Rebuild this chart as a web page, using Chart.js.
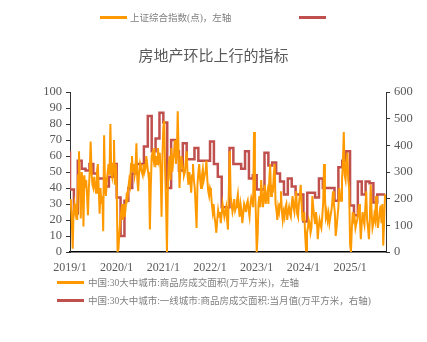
<!DOCTYPE html>
<html>
<head>
<meta charset="utf-8">
<script src="https://cdn.jsdelivr.net/npm/chart.js@4.4.1/dist/chart.umd.min.js"></script>
<style>
  html, body { margin: 0; padding: 0; background: #fff; }
  #wrap { position: relative; width: 427px; height: 342px; }
  canvas { position: absolute; left: 0; top: 0; }
  .lg { position: absolute; font-size: 9.5px; font-family: "Liberation Serif", "Noto Sans CJK SC", serif; color: #7f7f7f; white-space: nowrap; line-height: 12px; }
  .sw { position: absolute; height: 3px; width: 27px; }
</style>
</head>
<body>
<div id="wrap">
  <canvas id="grafica" width="427" height="342"></canvas>
  <span class="sw" style="left:100px;top:16px;background:#FF9900"></span>
  <span class="lg" style="left:130px;top:12px">上证综合指数(点)，左轴</span>
  <span class="sw" style="left:299px;top:16px;background:#C0504D"></span>
  <span class="sw" style="left:57px;top:281px;background:#FF9900"></span>
  <span class="lg" style="left:88px;top:277px">中国:30大中城市:商品房成交面积(万平方米)，左轴</span>
  <span class="sw" style="left:57px;top:299px;background:#C0504D"></span>
  <span class="lg" style="left:88px;top:295px">中国:30大中城市:一线城市:商品房成交面积:当月值(万平方米，右轴)</span>
</div>
<script>
// ── Datos ─────────────────────────────────────────────
const titulo = "房地产环比上行的指标";
const etiquetaNaranja = "中国:30大中城市:商品房成交面积(万平方米)，左轴";
const etiquetaRoja = "中国:30大中城市:一线城市:商品房成交面积:当月值(万平方米，右轴)";
const anios = [2019, 2020, 2021, 2022, 2023, 2024, 2025];

// semanal, eje izquierdo (una lista por año)
const semanas2019 = [33,30,20,2,25,30,25,30,20,48,63,40,21,50,45,16,48,40,45,35,23,40,50,69,50,42,40,47,42,37,50,55,40,24,40,30,35,13,73,40,35,45,50,55,48,80,50,47,55,70,42,55];
const semanas2020 = [40,0,2,12,20,25,30,20,30,22,28,35,33,40,45,42,55,60,50,55,48,52,68,45,38,50,55,52,50,48,55,50,52,60,55,50,45,14,40,60,62,58,65,53,60,55,65,58,62,50,22,60];
const semanas2021 = [78,82,50,30,0,40,55,60,45,65,50,58,62,70,55,60,88,62,40,52,60,55,52,48,50,57,63,48,42,50,45,37,48,55,45,40,28,15,42,50,55,45,40,48,52,45,48,50,57,45,38,35];
const semanas2022 = [40,38,30,25,30,22,18,12,20,26,22,25,18,24,30,26,22,25,28,20,14,40,63,35,30,25,28,33,26,28,32,36,28,22,30,26,18,24,30,28,25,30,32,26,22,30,34,32,28,75,40,25];
const semanas2023 = [0,10,30,35,28,45,35,28,35,42,30,35,38,30,45,55,35,42,37,48,55,30,26,20,28,25,30,38,26,20,25,22,28,30,20,25,28,24,22,30,35,28,25,32,38,24,22,30,35,42,30,20];
const semanas2024 = [20,25,10,1,12,15,20,18,12,15,35,28,22,18,25,20,8,15,20,17,15,22,30,55,35,22,25,20,24,18,22,25,30,38,30,25,10,15,22,28,40,35,32,45,55,75,48,45,55,62,45,40];
const semanas2025 = [5,0,15,25,20,22,15,18,20,25,30,20,8,18,25,20,17,28,38,20,15,8,20,42,25,15,18,23,20,35,22,15,20,25,29,18,30,4,20,36];

// mensual desde 2019/1, eje derecho (万平方米)
const mensual = [378,234,144,342,312,306,330,294,276,276,246,282,
                 330,204,60,192,240,294,330,330,396,510,378,426,
                 522,486,240,420,378,306,408,348,348,390,342,342,
                 342,414,330,282,168,168,390,330,330,312,378,276,
                 288,234,234,372,324,336,294,264,216,276,246,216,
                 216,114,222,222,204,276,240,240,240,192,318,342,
                 378,174,138,264,216,264,258,186,216,216];

const ticksIzq = { min: 0, max: 100, paso: 10 };
const ticksDer = { min: 0, max: 600, paso: 100 };

// ── Construcción de series ───────────────────────────
const listasSemanales = [semanas2019, semanas2020, semanas2021, semanas2022, semanas2023, semanas2024, semanas2025];
const puntosNaranja = [];
listasSemanales.forEach((lista, i) => {
  lista.forEach((v, k) => puntosNaranja.push({ x: anios[i] + k / 52, y: v }));
});
const puntosRojos = mensual.map((v, m) => ({ x: 2019 + m / 12, y: v }));

const FUENTE = '"Liberation Serif", "Noto Sans CJK SC", serif';
Chart.defaults.font.family = FUENTE;
Chart.defaults.color = "#595959";

new Chart(document.getElementById("grafica"), {
  type: "line",
  data: {
    datasets: [
      {
        label: etiquetaNaranja,
        data: puntosNaranja,
        borderColor: "#FF9900",
        borderWidth: 2,
        pointRadius: 0,
        tension: 0,
        yAxisID: "y",
        order: 0
      },
      {
        label: etiquetaRoja,
        data: puntosRojos,
        borderColor: "#C0504D",
        borderWidth: 2.5,
        pointRadius: 0,
        stepped: "after",
        yAxisID: "y1",
        order: 1
      }
    ]
  },
  options: {
    responsive: false,
    animation: false,
    layout: { padding: { top: 44, left: 0, right: 0, bottom: 0 } },
    plugins: {
      legend: { display: false },
      tooltip: { enabled: false },
      title: {
        display: true,
        text: titulo,
        color: "#595959",
        font: { family: '"Noto Sans CJK SC", sans-serif', size: 15, weight: "normal" },
        padding: { top: 2, bottom: 28 }
      }
    },
    scales: {
      x: {
        type: "linear",
        min: 2019,
        max: 2025.77,
        afterBuildTicks: (ax) => { ax.ticks = anios.map(v => ({ value: v })); },
        afterFit: (s) => { s.height = 90; },
        ticks: { callback: (v) => `${v}/1`, color: "#595959", font: { size: 12 }, padding: 9, maxRotation: 0, autoSkip: false },
        grid: { drawOnChartArea: false, drawTicks: false },
        border: { color: "#000", width: 1.5 }
      },
      y: {
        position: "left",
        min: ticksIzq.min, max: ticksIzq.max,
        ticks: { stepSize: ticksIzq.paso, autoSkip: false, color: "#595959", font: { size: 12.5 }, padding: 4 },
        afterFit: (s) => { s.width = 70; },
        grid: { drawOnChartArea: false, drawTicks: true, tickLength: 4, color: "#333" },
        border: { color: "#333", width: 1 }
      },
      y1: {
        position: "right",
        min: ticksDer.min, max: ticksDer.max,
        ticks: { stepSize: ticksDer.paso, autoSkip: false, color: "#595959", font: { size: 12.5 }, padding: 4 },
        afterFit: (s) => { s.width = 41; },
        grid: { drawOnChartArea: false, drawTicks: true, tickLength: 4, color: "#333" },
        border: { color: "#333", width: 1 }
      }
    }
  }
});
</script>
</body>
</html>
